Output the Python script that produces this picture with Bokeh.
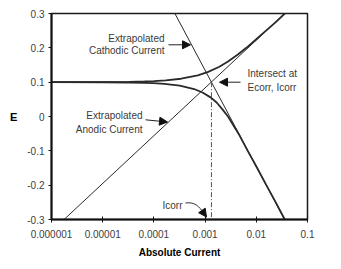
from bokeh.plotting import figure
from bokeh.models import Range1d, FixedTicker, Label, Arrow, NormalHead
from bokeh.embed import file_html
from bokeh.resources import INLINE

# ---------------- data ----------------
x_ticks = [1e-6, 1e-5, 1e-4, 1e-3, 1e-2, 1e-1]
x_tick_labels = ["0.000001", "0.00001", "0.0001", "0.001", "0.01", "0.1"]
y_ticks = [-0.3, -0.2, -0.1, 0.0, 0.1, 0.2, 0.3]
y_tick_labels = ["-0.3", "-0.2", "-0.1", "0", "0.1", "0.2", "0.3"]

# measured (absolute) current, anodic branch (upper curve)
anodic_curve_i = [1e-6, 1.0e-5, 3.3e-5, 6.6e-5, 1.0e-4, 1.7e-4, 3.4e-4, 7.2e-4,
                  1.15e-3, 1.9e-3, 2.8e-3, 4.3e-3, 6.4e-3, 1.0e-2, 1.55e-2,
                  2.4e-2, 3.6e-2]
anodic_curve_e = [0.1, 0.1003, 0.101, 0.102, 0.103, 0.105, 0.11, 0.12,
                  0.13, 0.145, 0.16, 0.18, 0.2, 0.225, 0.25, 0.275, 0.3]

# measured (absolute) current, cathodic branch (lower curve)
cathodic_curve_i = [1e-6, 1.0e-5, 3.3e-5, 6.5e-5, 9.8e-5, 1.6e-4, 3.2e-4, 6.1e-4,
                    8.9e-4, 1.3e-3, 1.7e-3, 2.2e-3, 2.8e-3, 4.5e-3, 6.8e-3,
                    1.04e-2, 1.57e-2, 2.4e-2, 3.6e-2]
cathodic_curve_e = [0.1, 0.0997, 0.099, 0.098, 0.097, 0.095, 0.09, 0.08,
                    0.07, 0.055, 0.04, 0.02, 0.0, -0.05, -0.1, -0.15,
                    -0.2, -0.25, -0.3]

# extrapolated Tafel lines
anodic_tafel_i = [1.76e-6, 3.6e-2]
anodic_tafel_e = [-0.3, 0.3]
cathodic_tafel_i = [2.57e-4, 3.56e-2]
cathodic_tafel_e = [0.3, -0.3]

# Icorr drop line
icorr_line_i = [1.33e-3, 1.33e-3]
icorr_line_e = [0.1, -0.3]

x_title = "Absolute Current"
y_title = "E"

# ---------------- layout ----------------
W, H = 341, 269
FL, FR, FT, FB = 51, 34, 13, 50
FW, FH = W - FL - FR, H - FT - FB

def dx(sx):
    return 10 ** (-6 + (sx - FL) / (FW / 5.0))

def dy(sy):
    return 0.3 - (sy - FT) / (FH / 0.6)

FONT = "Liberation Sans"
TXT = "#3a3a3a"
LINE = "#2a2a2a"

p = figure(width=W, height=H, x_axis_type="log",
           x_range=Range1d(1e-6, 0.1), y_range=Range1d(-0.3, 0.3),
           output_backend="svg", toolbar_location=None,
           min_border_left=FL, min_border_right=FR,
           min_border_top=FT, min_border_bottom=FB)
p.background_fill_color = "white"
p.border_fill_color = "white"
p.outline_line_color = "#1a1a1a"
p.outline_line_width = 1.5
p.xgrid.visible = False
p.ygrid.visible = False

p.xaxis.ticker = FixedTicker(ticks=x_ticks)
p.xaxis.major_label_overrides = dict(zip(x_ticks, x_tick_labels))
p.yaxis.ticker = FixedTicker(ticks=y_ticks)
p.yaxis.major_label_overrides = dict(zip(y_ticks, y_tick_labels))
for ax in (p.xaxis, p.yaxis):
    ax.axis_line_width = 2
    ax.axis_line_color = "#111111"
    ax.major_tick_line_color = "#111111"
    ax.major_tick_line_width = 1
    ax.minor_tick_line_color = None
    ax.major_label_text_font = FONT
    ax.major_label_text_font_size = "10px"
    ax.major_label_text_color = "#404040"
    ax.axis_label_text_font = FONT
    ax.axis_label_text_font_size = "10px"
    ax.axis_label_text_font_style = "bold"
    ax.axis_label_text_color = "black"
p.xaxis.major_tick_in = 3
p.xaxis.major_tick_out = 3
p.xaxis.major_label_standoff = 7
p.xaxis.axis_label = x_title
p.xaxis.axis_label_standoff = 6
p.yaxis.major_tick_in = 0
p.yaxis.major_tick_out = 3
p.yaxis.major_label_standoff = 4
p.yaxis.axis_label = y_title
p.yaxis.axis_label_standoff = 7
p.yaxis.axis_label_text_font_size = "11px"
try:
    p.yaxis.axis_label_orientation = "horizontal"
except Exception:
    pass

# lines
p.line(anodic_tafel_i, anodic_tafel_e, line_color=LINE, line_width=1)
p.line(cathodic_tafel_i, cathodic_tafel_e, line_color=LINE, line_width=1)
p.line(anodic_curve_i, anodic_curve_e, line_color=LINE, line_width=1.8)
p.line(cathodic_curve_i, cathodic_curve_e, line_color=LINE, line_width=1.8)
p.line(icorr_line_i, icorr_line_e, line_color="#555555", line_width=1,
       line_dash="5 2 1 2")

# texts
def lab(sx, sy, txt, align="left"):
    p.add_layout(Label(x=dx(sx), y=dy(sy), text=txt, text_align=align,
                       text_baseline="middle", text_font=FONT,
                       text_font_size="10px", text_color=TXT))

def arrow(sx0, sy0, sx1, sy1):
    p.add_layout(Arrow(end=NormalHead(size=8, fill_color="#111111",
                                      line_color="#111111", line_width=1),
                       x_start=dx(sx0), y_start=dy(sy0),
                       x_end=dx(sx1), y_end=dy(sy1),
                       line_color="#222222", line_width=1))

lab(164, 37.7, "Extrapolated", "right")
lab(164, 50, "Cathodic Current", "right")
arrow(168, 44.3, 190, 44.3)

lab(142, 115, "Extrapolated", "right")
lab(142, 129.3, "Anodic Current", "right")
arrow(145, 119.3, 167, 121.5)

lab(247, 72.7, "Intersect at", "left")
lab(247, 86.7, "Ecorr, Icorr", "left")
arrow(240, 81.7, 219, 81.7)

lab(162, 205, "Icorr", "left")
p.bezier(x0=[dx(185)], y0=[dy(202.5)], x1=[dx(202.5)], y1=[dy(211.5)],
         cx0=[dx(195)], cy0=[dy(201)], cx1=[dx(199)], cy1=[dy(207)],
         line_color="#333333", line_width=1)
arrow(202.5, 211.5, 206, 216.5)

open("out.html", "w").write(file_html(p, INLINE))
